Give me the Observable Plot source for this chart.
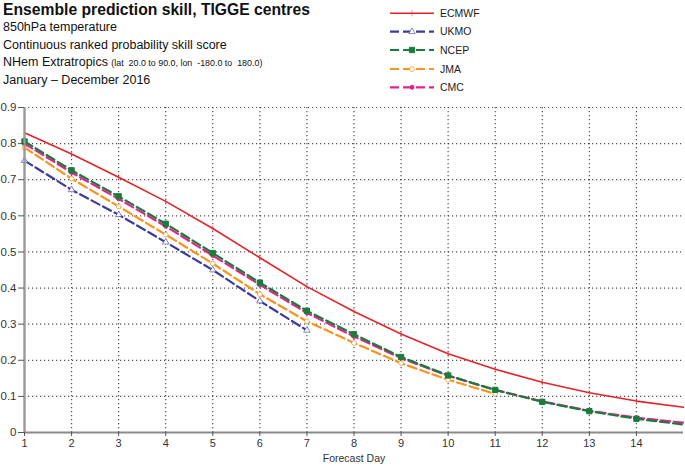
<!DOCTYPE html>
<html>
<head>
<meta charset="utf-8">
<script src="https://cdn.jsdelivr.net/npm/d3@7"></script>
<script src="https://cdn.jsdelivr.net/npm/@observablehq/plot@0.6"></script>
<style>
  html, body { margin: 0; padding: 0; background: #fff; }
  body { width: 685px; height: 467px; overflow: hidden; font-family: "Liberation Sans", Arial, sans-serif; color: #111; }
  #header { position: relative; width: 685px; height: 95px; }
  .t { position: absolute; left: 3px; white-space: nowrap; }
  #title { top: 1px; font-size: 15.7px; font-weight: bold; }
  .sub { font-size: 12.5px; }
  .small { font-size: 8.9px; }
  #legend { position: absolute; left: 384px; top: 0; }
  #chart svg { display: block; }
</style>
</head>
<body>
<div id="header">
  <div class="t" id="title">Ensemble prediction skill, TIGGE centres</div>
  <div class="t sub" style="top:20px">850hPa temperature</div>
  <div class="t sub" style="top:37.5px">Continuous ranked probability skill score</div>
  <div class="t sub" style="top:55px">NHem Extratropics <span class="small">(lat &nbsp;20.0 to 90.0, lon &nbsp;-180.0 to &nbsp;180.0)</span></div>
  <div class="t sub" style="top:73px">January – December 2016</div>
  <svg id="legend" width="110" height="95"></svg>
</div>
<div id="chart"></div>
<script>
// ---- data ----
const days = [1, 2, 3, 4, 5, 6, 7, 8, 9, 10, 11, 12, 13, 14, 15];
const models = ["ECMWF", "UKMO", "NCEP", "JMA", "CMC"];
const ecmwf = [0.830, 0.771, 0.707, 0.640, 0.565, 0.484, 0.404, 0.335, 0.273, 0.218, 0.175, 0.139, 0.110, 0.087, 0.070];
const ukmo  = [0.753, 0.672, 0.603, 0.527, 0.450, 0.364, 0.283];
const ncep  = [0.806, 0.726, 0.654, 0.578, 0.497, 0.415, 0.337, 0.272, 0.209, 0.158, 0.118, 0.085, 0.059, 0.038, 0.022];
const jma   = [0.789, 0.703, 0.626, 0.548, 0.468, 0.383, 0.308, 0.248, 0.192, 0.146, 0.107];
const cmc   = [0.800, 0.720, 0.647, 0.571, 0.490, 0.409, 0.331, 0.266, 0.206, 0.157, 0.118, 0.086, 0.060, 0.041, 0.027];
const yTicks = [0, 0.1, 0.2, 0.3, 0.4, 0.5, 0.6, 0.7, 0.8, 0.9];
const xTicks = [1, 2, 3, 4, 5, 6, 7, 8, 9, 10, 11, 12, 13, 14];

const colors = {ECMWF: "#e3232a", UKMO: "#3c3b9c", NCEP: "#1b7b3d", JMA: "#f7941d", CMC: "#e4228c"};
const dashes = {ECMWF: null, UKMO: "9,4", NCEP: "9,4", JMA: "9,4", CMC: "9,4"};

const vtick = {draw(ctx, size) { const h = Math.sqrt(size) * 0.7; ctx.moveTo(0, -h); ctx.lineTo(0, h); }};
const symbols = {ECMWF: vtick, UKMO: "triangle", NCEP: "square", JMA: "circle", CMC: "circle"};
const fills = {ECMWF: "none", UKMO: "white", NCEP: colors.NCEP, JMA: "white", CMC: colors.CMC};
const rs = {ECMWF: 2.5, UKMO: 2.4, NCEP: 3.0, JMA: 2.4, CMC: 2.0};
const symOpacity = {ECMWF: 0.5, UKMO: 0.6, NCEP: 1, JMA: 0.7, CMC: 1};

const series = {ECMWF: ecmwf, UKMO: ukmo, NCEP: ncep, JMA: jma, CMC: cmc};
const rows = (m) => series[m].map((v, i) => ({model: m, day: days[i], value: v}));

const drawOrder = ["ECMWF", "UKMO", "JMA", "CMC", "NCEP"];
const lineMarks = [];
for (const m of drawOrder) {
  const data = rows(m);
  lineMarks.push(Plot.line(data, {x: "day", y: "value", stroke: colors[m], strokeWidth: m === "ECMWF" ? 1.6 : 2.2, strokeDasharray: dashes[m]}));
  lineMarks.push(Plot.dot(data.filter(d => d.day < 15), {x: "day", y: "value", symbol: () => symbols[m], r: rs[m], stroke: colors[m], strokeOpacity: symOpacity[m], fill: fills[m], strokeWidth: 1}));
}

const chart = Plot.plot({
  width: 685,
  height: 372,
  marginLeft: 24,
  marginRight: 2,
  marginTop: 12,
  marginBottom: 35,
  style: {fontFamily: "'Liberation Sans', Arial, sans-serif", fontSize: "11px", color: "#333", background: "white"},
  x: {domain: [1, 15]},
  y: {domain: [0, 0.9]},
  symbol: {type: "identity"},
  marks: [
    Plot.gridX(xTicks.slice(1), {stroke: "#333", strokeOpacity: 0.85, strokeDasharray: "1.2,2.8", strokeWidth: 1.2}),
    Plot.gridY(yTicks.slice(1), {stroke: "#333", strokeOpacity: 0.85, strokeDasharray: "1.2,2.8", strokeWidth: 1.2}),
    ...lineMarks,
    Plot.ruleX([1], {stroke: "#999", strokeWidth: 2.4}),
    Plot.ruleY([0], {stroke: "#8a8a8a", strokeWidth: 2.2}),
    Plot.axisX(xTicks, {tickSize: 4, tickPadding: 3, label: null, fontSize: 11, stroke: "#555"}),
    Plot.axisY(yTicks, {tickSize: 6, tickPadding: 2, label: null, fontSize: 11.5, stroke: "#555", tickFormat: d => d === 0 ? "0" : d3.format(".1f")(d)}),
    Plot.text(["Forecast Day"], {frameAnchor: "bottom", dy: 29, text: d => d, fontSize: 10.5, fill: "#333"})
  ]
});
document.getElementById("chart").append(chart);

// ---- legend ----
const lg = d3.select("#legend");
const rowY = [13.3, 31.7, 50, 69, 87.3];
models.forEach((m, i) => {
  const y = rowY[i];
  lg.append("line").attr("x1", 6).attr("x2", 50).attr("y1", y).attr("y2", y)
    .attr("stroke", colors[m]).attr("stroke-width", m === "ECMWF" ? 1.6 : 2.2)
    .attr("stroke-dasharray", dashes[m] ? "9,4" : null);
  const sym = symbols[m] === vtick ? null : d3.symbol().type({triangle: d3.symbolTriangle, square: d3.symbolSquare, circle: d3.symbolCircle}[symbols[m]]).size(Math.PI * rs[m] * rs[m]);
  if (sym) {
    lg.append("path").attr("d", sym()).attr("transform", `translate(28,${y})`)
      .attr("fill", fills[m]).attr("stroke", colors[m]).attr("stroke-opacity", symOpacity[m]).attr("stroke-width", 1);
  } else {
    lg.append("line").attr("x1", 28).attr("x2", 28).attr("y1", y - 3).attr("y2", y + 3).attr("stroke", colors[m]).attr("stroke-opacity", 0.5).attr("stroke-width", 1);
  }
  lg.append("text").attr("x", 56).attr("y", y).attr("dy", "0.35em")
    .attr("font-size", 10.5).attr("fill", "#222").attr("font-family", "'Liberation Sans', Arial, sans-serif").text(m);
});
</script>
</body>
</html>
